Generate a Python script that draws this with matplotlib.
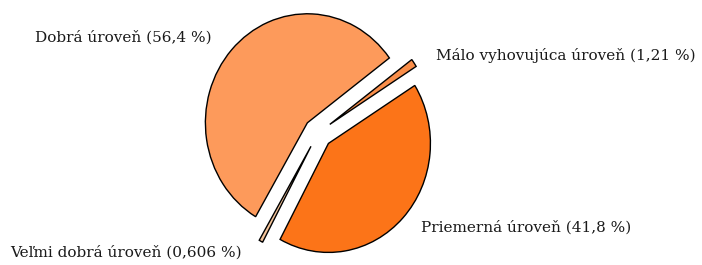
import matplotlib
matplotlib.use("Agg")
import matplotlib.pyplot as plt

labels = ["Dobrá úroveň (56,4 %)", "Veľmi dobrá úroveň (0,606 %)",
          "Priemerná úroveň (41,8 %)", "Málo vyhovujúca úroveň (1,21 %)"]
values = [56.4, 0.606, 41.8, 1.21]
colors = ["#FD9A5B", "#F4C49A", "#FC7418", "#F98E4A"]

fig = plt.figure(figsize=(7.02, 2.65), dpi=100)
ax = fig.add_axes([0, 0, 1, 1])
ax.pie(values, colors=colors, startangle=36.5, counterclock=True,
       explode=[0.14] * len(values),
       wedgeprops=dict(edgecolor="black", linewidth=1.0))
ax.set_aspect("auto")
ax.set_xlim(-318 / 102, (702 - 318) / 102)
ax.set_ylim(-132 / 109, 133 / 109)
ax.axis("off")

font = dict(family="DejaVu Serif", fontsize=11, color="#1a1a1a", va="center", ha="left")
label_pos = [(0.050, 0.857), (0.014, 0.049), (0.600, 0.140), (0.621, 0.792)]
for lab, (x, y) in zip(labels, label_pos):
    fig.text(x, y, lab, **font)

fig.savefig("out.png", dpi=100)
